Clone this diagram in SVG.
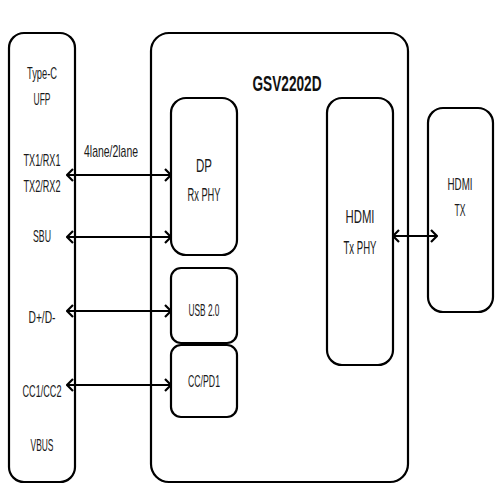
<svg xmlns="http://www.w3.org/2000/svg" width="500" height="500" viewBox="0 0 500 500">
<style>
.box{fill:#fff;stroke:#000;stroke-width:2.2}
.t{font-family:"Liberation Sans",Arial,sans-serif;font-size:17px;fill:#1a1a1a;text-anchor:middle}
.b{font-size:19px}
.h{font-family:"Liberation Sans",Arial,sans-serif;font-size:22px;font-weight:bold;fill:#111;text-anchor:middle}
.c{stroke:#000;stroke-width:2.2;fill:none;marker-start:url(#ah);marker-end:url(#ah)}
</style>
<defs>
<marker id="ah" viewBox="0 0 8 14" refX="7" refY="7" markerWidth="8" markerHeight="14" markerUnits="userSpaceOnUse" orient="auto-start-reverse">
<path d="M1,1 L7,7 L1,13" fill="none" stroke="#000" stroke-width="2.2"/>
</marker>
</defs>
<rect width="500" height="500" fill="#fff"/>
<g id="typec">
<rect class="box" x="9" y="33" width="66" height="449" rx="15"/>
<text class="t" x="42" y="79" textLength="30" lengthAdjust="spacingAndGlyphs">Type-C</text>
<text class="t" x="42" y="105" textLength="17" lengthAdjust="spacingAndGlyphs">UFP</text>
<text class="t" x="42" y="166" textLength="37" lengthAdjust="spacingAndGlyphs">TX1/RX1</text>
<text class="t" x="42" y="192" textLength="37" lengthAdjust="spacingAndGlyphs">TX2/RX2</text>
<text class="t" x="42" y="242" textLength="18" lengthAdjust="spacingAndGlyphs">SBU</text>
<text class="t" x="42" y="323" textLength="27" lengthAdjust="spacingAndGlyphs">D+/D-</text>
<text class="t" x="42" y="397" textLength="39" lengthAdjust="spacingAndGlyphs">CC1/CC2</text>
<text class="t" x="42" y="451" textLength="23" lengthAdjust="spacingAndGlyphs">VBUS</text>
</g>
<g id="gsv2202d">
<rect class="box" x="151" y="33" width="257" height="449" rx="18"/>
<text class="h" x="287" y="91" textLength="69" lengthAdjust="spacingAndGlyphs">GSV2202D</text>
</g>
<g id="dprx">
<rect class="box" x="171" y="98" width="66" height="157" rx="15"/>
<text class="t b" x="204" y="172" textLength="16" lengthAdjust="spacingAndGlyphs">DP</text>
<text class="t b" x="204" y="201" textLength="33" lengthAdjust="spacingAndGlyphs">Rx PHY</text>
</g>
<g id="usb">
<rect class="box" x="171" y="268" width="66" height="75" rx="10"/>
<text class="t" x="204" y="316" textLength="31" lengthAdjust="spacingAndGlyphs">USB 2.0</text>
</g>
<g id="ccpd">
<rect class="box" x="171" y="345" width="66" height="72" rx="10"/>
<text class="t" x="204" y="387" textLength="32" lengthAdjust="spacingAndGlyphs">CC/PD1</text>
</g>
<g id="hdmitxphy">
<rect class="box" x="327" y="98" width="66" height="267" rx="15"/>
<text class="t b" x="360" y="223" textLength="29" lengthAdjust="spacingAndGlyphs">HDMI</text>
<text class="t b" x="360" y="254" textLength="33" lengthAdjust="spacingAndGlyphs">Tx PHY</text>
</g>
<g id="hdmitx">
<rect class="box" x="428" y="108" width="65" height="204" rx="15"/>
<text class="t" x="460" y="190" textLength="25" lengthAdjust="spacingAndGlyphs">HDMI</text>
<text class="t" x="460" y="216" textLength="11" lengthAdjust="spacingAndGlyphs">TX</text>
</g>
<g id="connectors">
<line class="c" x1="67" y1="175" x2="171" y2="175"/>
<text class="t" x="111" y="157" textLength="54" lengthAdjust="spacingAndGlyphs">4lane/2lane</text>
<line class="c" x1="67" y1="237" x2="171" y2="237"/>
<line class="c" x1="67" y1="311" x2="171" y2="311"/>
<line class="c" x1="67" y1="385" x2="171" y2="385"/>
<line class="c" x1="393" y1="236" x2="437" y2="236"/>
</g>
</svg>
